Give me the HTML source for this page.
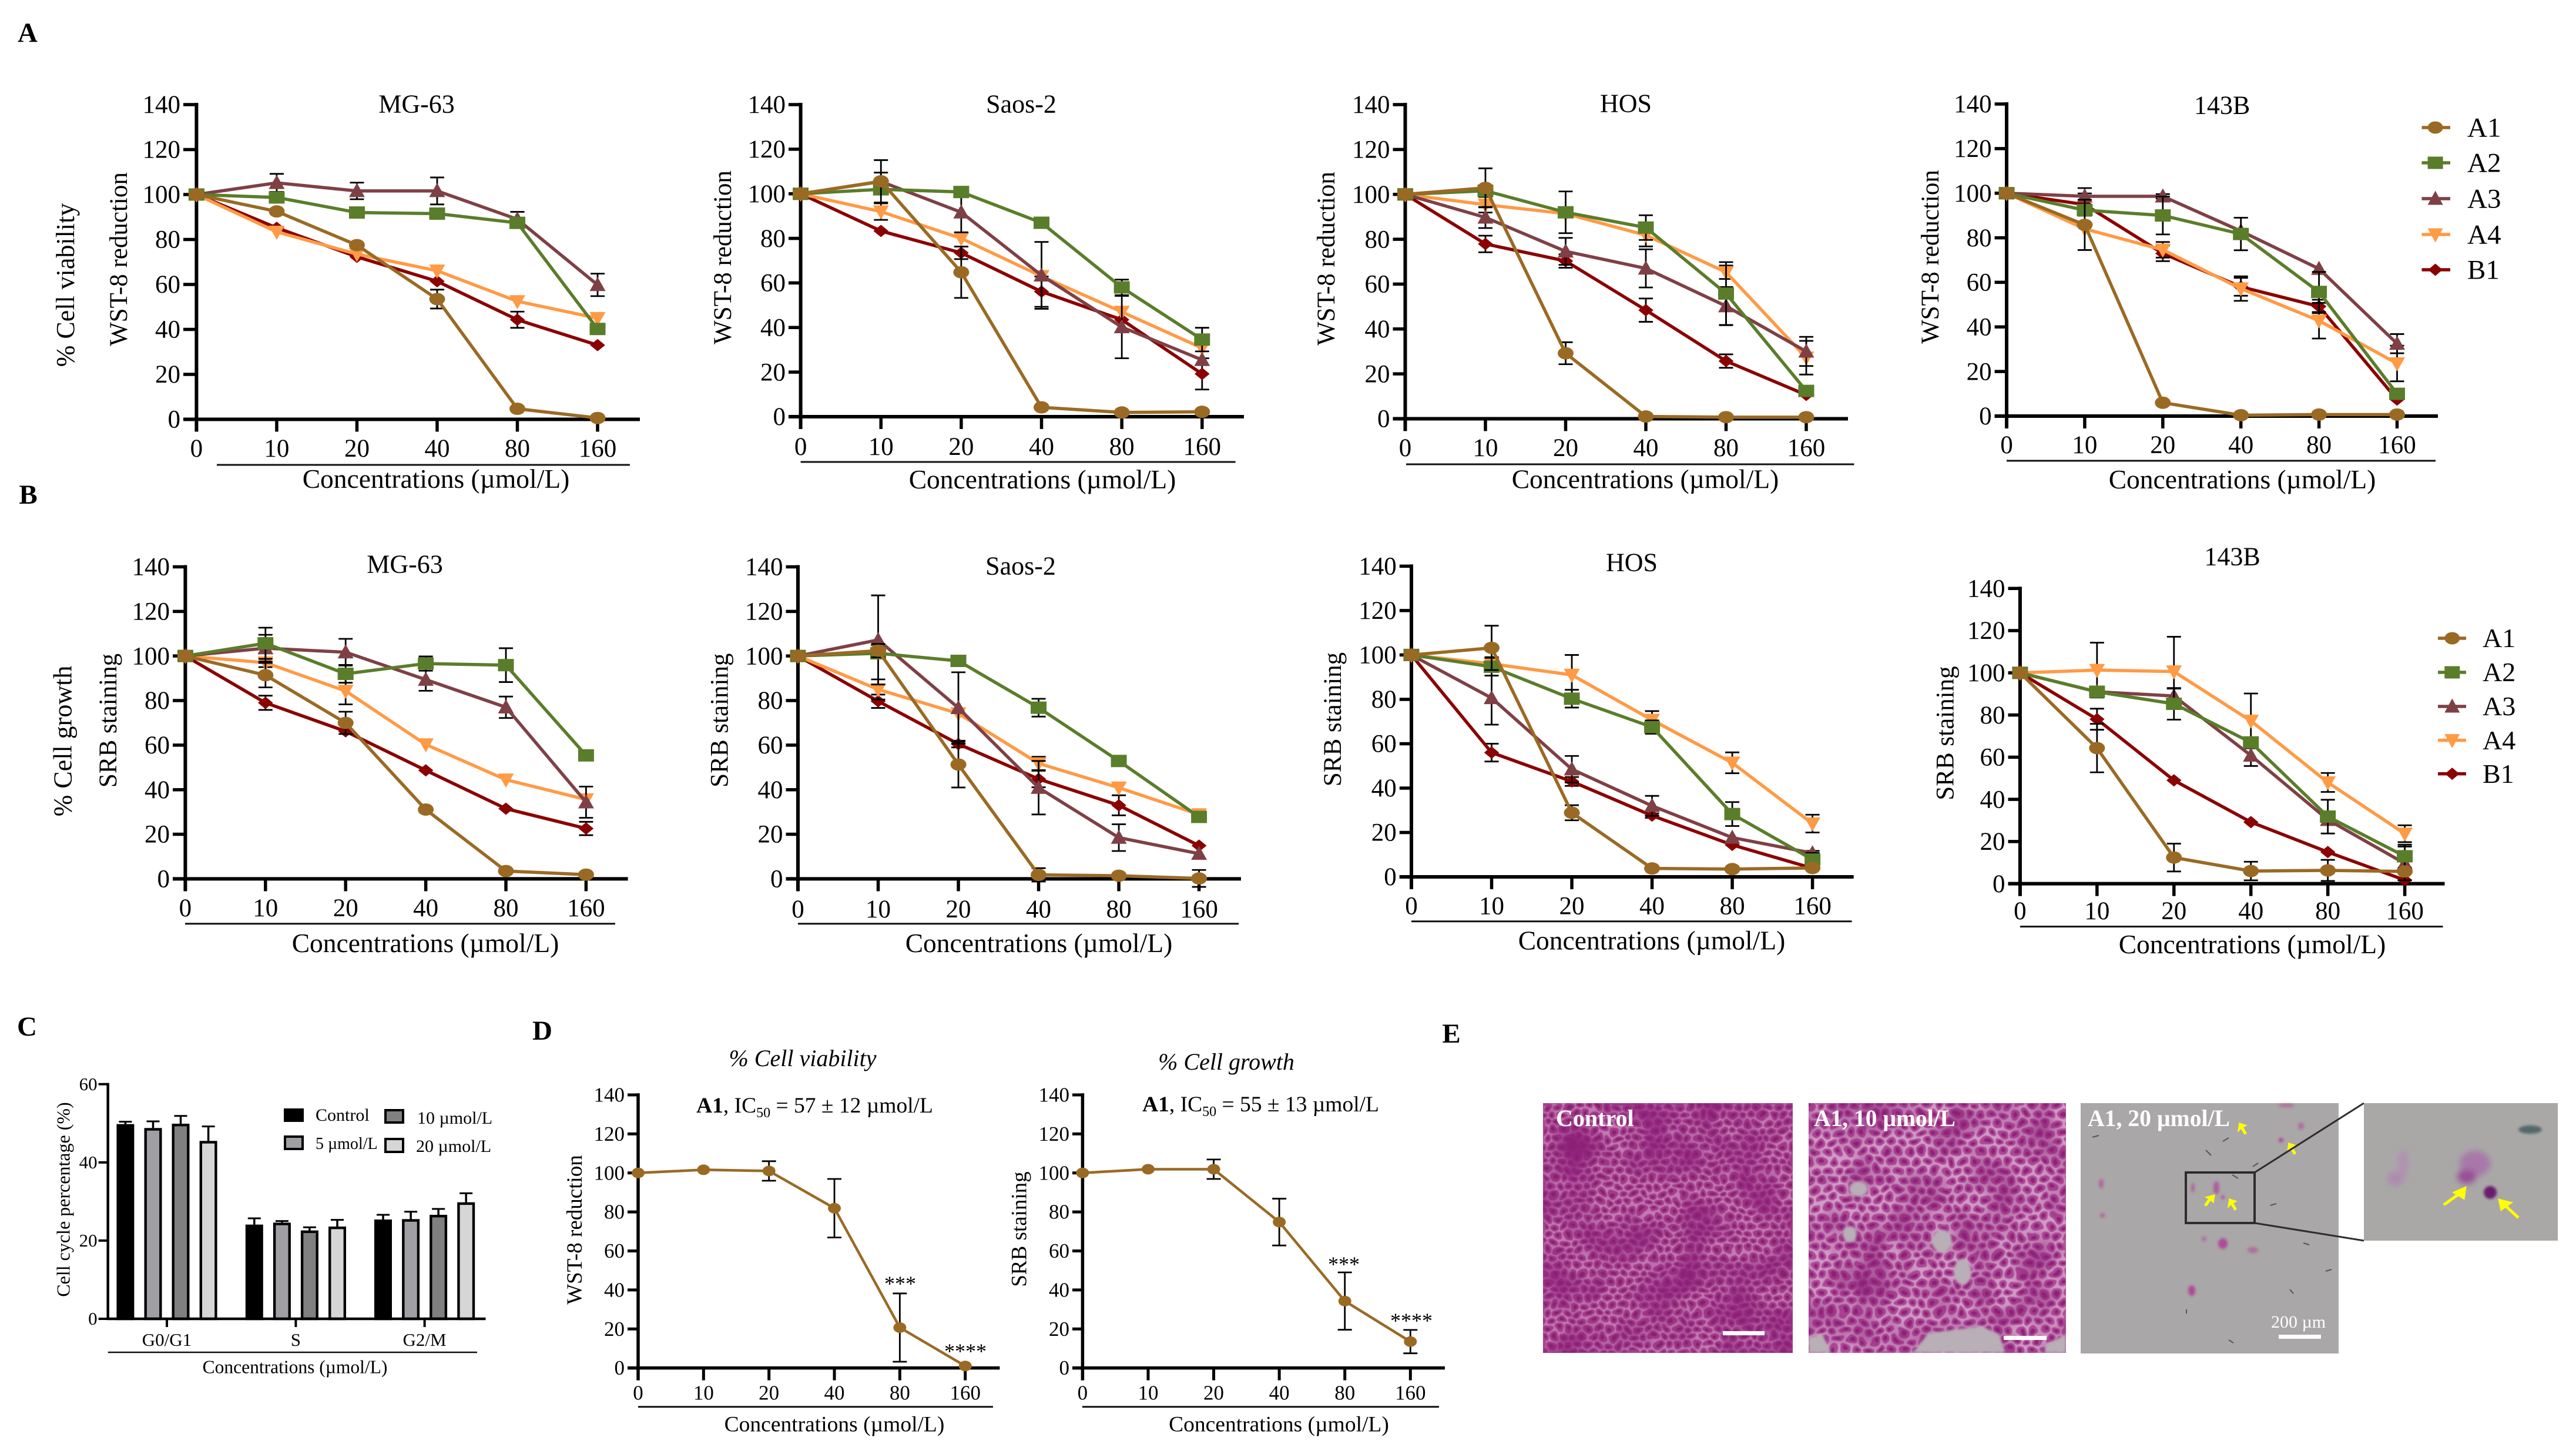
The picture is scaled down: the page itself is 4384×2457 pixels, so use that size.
<!DOCTYPE html>
<html lang="en">
<head>
<meta charset="utf-8">
<title>Cell viability and growth figure</title>
<style>
html,body{margin:0;padding:0;background:#fff}
svg{display:block}
text{font-family:"Liberation Serif","Times New Roman",serif;fill:#000}
</style>
</head>
<body>
<svg id="figure" xmlns="http://www.w3.org/2000/svg" width="4384" height="2457" viewBox="0 0 4384 2457">
  <defs>
    <pattern id="cellsDense" width="17" height="27" patternUnits="userSpaceOnUse">
      <rect width="17" height="27" fill="#C27AB4"/>
      <ellipse cx="8.5" cy="6.75" rx="7.6" ry="6.4" fill="#A33A88"/>
      <ellipse cx="0" cy="20.25" rx="7.6" ry="6.4" fill="#A33A88"/>
      <ellipse cx="17" cy="20.25" rx="7.6" ry="6.4" fill="#A33A88"/>
      <ellipse cx="8.5" cy="6.75" rx="3.4" ry="3" fill="#85216F"/>
      <ellipse cx="0" cy="20.25" rx="3.4" ry="3" fill="#85216F"/>
      <ellipse cx="17" cy="20.25" rx="3.4" ry="3" fill="#85216F"/>
    </pattern>
    <pattern id="cellsLoose" width="20" height="32" patternUnits="userSpaceOnUse">
      <rect width="20" height="32" fill="#CF9CC6"/>
      <ellipse cx="10" cy="8" rx="8.4" ry="7.2" fill="#AF4896"/>
      <ellipse cx="0" cy="24" rx="8.4" ry="7.2" fill="#AF4896"/>
      <ellipse cx="20" cy="24" rx="8.4" ry="7.2" fill="#AF4896"/>
      <ellipse cx="10" cy="8" rx="4" ry="3.5" fill="#8C2478"/>
      <ellipse cx="0" cy="24" rx="4" ry="3.5" fill="#8C2478"/>
      <ellipse cx="20" cy="24" rx="4" ry="3.5" fill="#8C2478"/>
    </pattern>
    <filter id="warp" x="0" y="0" width="100%" height="100%" color-interpolation-filters="sRGB">
      <feTurbulence type="fractalNoise" baseFrequency="0.03" numOctaves="2" seed="7" result="n"/>
      <feDisplacementMap in="SourceGraphic" in2="n" scale="20" xChannelSelector="R" yChannelSelector="G" result="d"/>
      <feGaussianBlur in="d" stdDeviation="0.9"/>
    </filter>
    <filter id="mottle" x="0" y="0" width="100%" height="100%" color-interpolation-filters="sRGB">
      <feTurbulence type="fractalNoise" baseFrequency="0.014" numOctaves="3" seed="4"/>
      <feColorMatrix type="matrix" values="0 0 0 0 0.55  0 0 0 0 0.12  0 0 0 0 0.47  2 0 0 0 -0.75"/>
    </filter>
    <filter id="soft" x="-30%" y="-30%" width="160%" height="160%"><feGaussianBlur stdDeviation="2"/></filter>
    <filter id="softer" x="-30%" y="-30%" width="160%" height="160%"><feGaussianBlur stdDeviation="5"/></filter>
    <clipPath id="clip10"><rect x="3078" y="1877" width="438" height="425"/></clipPath>
  </defs>

  <g font-weight="bold" font-size="47" text-anchor="middle">
    <text x="47" y="71">A</text>
    <text x="48" y="857">B</text>
    <text x="46" y="1762">C</text>
    <text x="923" y="1769">D</text>
    <text x="2470" y="1774">E</text>
  </g>

  <g>
    <text x="1366" y="1814" font-size="40" font-style="italic" text-anchor="middle">% Cell viability</text>
    <text x="2087" y="1820" font-size="40" font-style="italic" text-anchor="middle">% Cell growth</text>
    <text x="1185" y="1893" font-size="37.5"><tspan font-weight="bold">A1</tspan>, IC<tspan font-size="24" dy="8">50</tspan><tspan dy="-8"> = 57 ± 12 µmol/L</tspan></text>
    <text x="1944" y="1891" font-size="37.5"><tspan font-weight="bold">A1</tspan>, IC<tspan font-size="24" dy="8">50</tspan><tspan dy="-8"> = 55 ± 13 µmol/L</tspan></text>
    <text x="1532" y="2196" font-size="36" text-anchor="middle">***</text>
    <text x="1643" y="2311" font-size="36" text-anchor="middle">****</text>
    <text x="2287" y="2163" font-size="36" text-anchor="middle">***</text>
    <text x="2402" y="2259" font-size="36" text-anchor="middle">****</text>
  </g>

  <g>
    <rect x="2626" y="1877" width="425" height="425" fill="#A8468E"/>
    <rect x="2626" y="1877" width="425" height="425" fill="url(#cellsDense)" filter="url(#warp)"/>
    <rect x="2626" y="1877" width="425" height="425" filter="url(#mottle)"/>
    <text x="2648" y="1916" font-size="40" font-weight="bold" style="fill:#fff">Control</text>
    <rect x="2932" y="2265" width="71" height="7" fill="#fff"/>
  </g>

  <g>
    <rect x="3078" y="1877" width="438" height="425" fill="#B4569C"/>
    <rect x="3078" y="1877" width="438" height="425" fill="url(#cellsLoose)" filter="url(#warp)"/>
    <rect x="3078" y="1877" width="438" height="425" filter="url(#mottle)" opacity="0.8"/>
    <g fill="#B9AFB7" filter="url(#soft)" clip-path="url(#clip10)">
      <ellipse cx="3305" cy="2112" rx="17" ry="20"/>
      <ellipse cx="3148" cy="2100" rx="12" ry="14"/>
      <ellipse cx="3340" cy="2164" rx="15" ry="22"/>
      <ellipse cx="3163" cy="2023" rx="16" ry="13"/>
      <polygon points="3255,2302 3282,2268 3330,2262 3372,2256 3402,2270 3412,2302"/>
      <polygon points="3078,2275 3102,2270 3116,2302 3078,2302"/>
      <polygon points="3480,2290 3516,2270 3516,2302 3480,2302"/>
    </g>
    <text x="3087" y="1916" font-size="40" font-weight="bold" textLength="241" lengthAdjust="spacingAndGlyphs" style="fill:#fff">A1, 10 µmol/L</text>
    <rect x="3410" y="2273" width="73" height="7" fill="#fff"/>
  </g>

  <g>
    <rect x="3541" y="1877" width="439" height="426" fill="#A9A7A7"/>
    <g fill="#B04A98" filter="url(#soft)">
      <ellipse cx="3783" cy="2116" rx="8" ry="9"/>
      <ellipse cx="3730" cy="2196" rx="6" ry="9"/>
      <ellipse cx="3576" cy="2014" rx="4" ry="8" opacity="0.7"/>
      <ellipse cx="3578" cy="2068" rx="4" ry="4" opacity="0.7"/>
      <ellipse cx="3834" cy="2127" rx="9" ry="5" opacity="0.6"/>
      <ellipse cx="3772" cy="2021" rx="5" ry="11" opacity="0.8"/>
      <ellipse cx="3732" cy="2021" rx="3" ry="8" opacity="0.7"/>
      <ellipse cx="3751" cy="2108" rx="4" ry="4" opacity="0.6"/>
      <ellipse cx="3916" cy="1916" rx="5" ry="6" opacity="0.6"/>
      <ellipse cx="3882" cy="1940" rx="4" ry="4"/>
      <ellipse cx="3891" cy="1881" rx="13" ry="3" opacity="0.6"/>
      <ellipse cx="3783" cy="2037" rx="3" ry="3"/>
    </g>
    <g stroke="#4A5A60" stroke-width="2">
      <line x1="3783" y1="1942" x2="3793" y2="1936"/>
      <line x1="3754" y1="1957" x2="3763" y2="1966"/>
      <line x1="3834" y1="1985" x2="3843" y2="1979"/>
      <line x1="3561" y1="1935" x2="3572" y2="1932"/>
      <line x1="3799" y1="1999" x2="3809" y2="2005"/>
      <line x1="3864" y1="2051" x2="3874" y2="2048"/>
      <line x1="3920" y1="2115" x2="3930" y2="2118"/>
      <line x1="3958" y1="2163" x2="3968" y2="2160"/>
      <line x1="3721" y1="2228" x2="3721" y2="2235"/>
      <line x1="3793" y1="2280" x2="3801" y2="2285"/>
      <line x1="3897" y1="2194" x2="3903" y2="2201"/>
    </g>
    <rect x="3720" y="1995" width="117" height="86" fill="none" stroke="#2D2D2D" stroke-width="4"/>
    <g fill="#FFFF00" stroke="#FFFF00">
      <path stroke-width="1.5" d="M3811 1911l12 4-6 3 6 10-3 2-6-10-5 5z"/>
      <path stroke-width="1.5" d="M3895 1945l12 4-6 3 6 10-3 2-6-10-5 5z"/>
      <path stroke-width="1.5" d="M3769 2033l-2 13-5-4-7 10-3-2 7-10-5-3z"/>
      <path stroke-width="1.5" d="M3794 2040l12 4-6 3 6 10-3 2-6-10-5 5z"/>
    </g>
    <text x="3553" y="1916" font-size="40" font-weight="bold" textLength="242" lengthAdjust="spacingAndGlyphs" style="fill:#fff">A1, 20 µmol/L</text>
    <text x="3865" y="2259" font-size="30" style="fill:#fff">200 µm</text>
    <rect x="3878" y="2271" width="72" height="7" fill="#fff"/>
  </g>

  <g stroke="#2D2D2D" stroke-width="3">
    <line x1="3837" y1="1995" x2="4023" y2="1877"/>
    <line x1="3837" y1="2081" x2="4023" y2="2111"/>
  </g>

  <g>
    <rect x="4023" y="1877" width="330" height="234" fill="#A9A8A7"/>
    <g filter="url(#softer)">
      <ellipse cx="4090" cy="1980" rx="9" ry="24" fill="#B192B0"/>
      <ellipse cx="4077" cy="2006" rx="14" ry="12" fill="#AF8AAF"/>
      <ellipse cx="4212" cy="1980" rx="26" ry="22" fill="#A878A8"/>
      <ellipse cx="4198" cy="2002" rx="16" ry="12" fill="#9A4E96"/>
    </g>
    <g filter="url(#soft)">
      <ellipse cx="4238" cy="2029" rx="11" ry="11" fill="#6A1E70"/>
      <ellipse cx="4306" cy="1922" rx="20" ry="7" fill="#55686A"/>
    </g>
    <g fill="#FFFF00" stroke="#FFFF00">
      <line x1="4159" y1="2050" x2="4190" y2="2028" stroke-width="5"/>
      <polygon points="4197,2019 4194,2041 4174,2029" stroke-width="1"/>
      <line x1="4286" y1="2072" x2="4260" y2="2048" stroke-width="5"/>
      <polygon points="4252,2040 4276,2046 4256,2060" stroke-width="1"/>
    </g>
  </g>
</svg>

<script>
// Shared categories and tick labels
const doses = ['0', '10', '20', '40', '80', '160'];
const yTicks = [0, 20, 40, 60, 80, 100, 120, 140];
const seriesNames = ['A1', 'A2', 'A3', 'A4', 'B1'];
const cycleCategories = ['G0/G1', 'S', 'G2/M'];
const cycleTreatments = ['Control', '5 µmol/L', '10 µmol/L', '20 µmol/L'];
const cycleTicks = [0, 20, 40, 60];

// Panel A, WST-8, MG-63
const aMg63A1 = [100, 92.5, 77.5, 53.5, 4.7, 0.6];
const aMg63A2 = [100, 98.7, 92, 91.5, 87.4, 40.2];
const aMg63A3 = [100, 105.2, 101.6, 101.6, 89, 59.8];
const aMg63A4 = [100, 83.4, 73.5, 66.1, 52.5, 45];
const aMg63B1 = [100, 85.2, 72.3, 61.4, 44.3, 33];
const aMg63A1Err = [0, 0, 0, 4.2, 0, 0];
const aMg63A2Err = [0, 0, 0, 0, 0, 0];
const aMg63A3Err = [0, 4, 3.7, 6, 3.3, 5];
const aMg63A4Err = [0, 0, 0, 0, 0, 0];
const aMg63B1Err = [0, 0, 0, 0, 3.6, 0];

// Panel A, WST-8, Saos-2
const aSaosA1 = [100, 105.6, 64.8, 4.2, 1.9, 2.2];
const aSaosA2 = [100, 102, 100.8, 87, 58, 34.6];
const aSaosA3 = [100, 105.5, 91.7, 63.4, 40.2, 25.5];
const aSaosA4 = [100, 92, 80, 63, 47, 30.8];
const aSaosB1 = [100, 83.3, 73.5, 56.1, 43.5, 19.2];
const aSaosA1Err = [0, 9.5, 11.5, 0, 0, 0];
const aSaosA2Err = [0, 0, 0, 0, 3.5, 5.3];
const aSaosA3Err = [0, 4, 9, 15, 14, 0];
const aSaosA4Err = [0, 3.7, 0, 0, 0, 0];
const aSaosB1Err = [0, 0, 2.8, 6.8, 0, 7];

// Panel A, WST-8, HOS
const aHosA1 = [100, 102.9, 29.2, 1, 0.7, 0.7];
const aHosA2 = [100, 101.6, 92, 85.2, 55.8, 12.4];
const aHosA3 = [100, 89.7, 74.6, 67, 50.2, 30];
const aHosA4 = [100, 95.4, 91.4, 81.8, 65.3, 27.2];
const aHosB1 = [100, 77.9, 70.3, 48.4, 25.7, 10.6];
const aHosA1Err = [0, 8.7, 4.9, 0, 0, 0];
const aHosA2Err = [0, 0, 9.3, 5.5, 14, 0];
const aHosA3Err = [0, 4.7, 6, 8.5, 8.5, 6.5];
const aHosA4Err = [0, 3.5, 0, 5, 3, 7.5];
const aHosB1Err = [0, 3.7, 3, 5.2, 3, 0];

// Panel A, WST-8, 143B
const a143A1 = [100, 85.8, 6, 0.4, 0.7, 0.7];
const a143A2 = [100, 92.4, 90, 81.7, 55.7, 10];
const a143A3 = [100, 98.6, 98.6, 83, 66.1, 32.5];
const a143A4 = [100, 84, 74.6, 57.2, 42.8, 23.6];
const a143B1 = [100, 94.9, 73, 58, 49.2, 7.4];
const a143A1Err = [0, 11.3, 0, 0, 0, 0];
const a143A2Err = [0, 2, 8.5, 7.3, 9, 0];
const a143A3Err = [0, 3.7, 1, 0, 0, 4.3];
const a143A4Err = [0, 0, 3.5, 5.5, 8, 8];
const a143B1Err = [0, 5, 3.5, 4, 3, 0];

// Panel B, SRB, MG-63
const bMg63A1 = [100, 91.4, 70, 31.1, 3.5, 1.9];
const bMg63A2 = [100, 105.7, 92, 96.6, 95.9, 55.4];
const bMg63A3 = [100, 103.5, 101.7, 89.4, 77, 34.4];
const bMg63A4 = [100, 97, 84.3, 60.3, 44.5, 35.6];
const bMg63B1 = [100, 79, 66.2, 48.7, 31.5, 22.6];
const bMg63A1Err = [0, 5.5, 5, 0, 0, 0];
const bMg63A2Err = [0, 7, 4, 3.2, 7.6, 0];
const bMg63A3Err = [0, 6, 6, 5, 4.8, 7];
const bMg63A4Err = [0, 2, 6, 0, 0, 0];
const bMg63B1Err = [0, 3.2, 0, 0, 0, 3];

// Panel B, SRB, Saos-2
const bSaosA1 = [100, 102.4, 51.3, 1.8, 1.4, 0.2];
const bSaosA2 = [100, 101.2, 97.8, 76.8, 52.9, 27.8];
const bSaosA3 = [100, 107.2, 76.7, 40.9, 18.5, 11.3];
const bSaosA4 = [100, 85, 74.2, 51.8, 40.9, 28.9];
const bSaosB1 = [100, 79.7, 60.5, 44.8, 33, 14.9];
const bSaosA1Err = [0, 3, 10.3, 3, 0, 3.8];
const bSaosA2Err = [0, 0, 0, 4, 0, 0];
const bSaosA3Err = [0, 20, 16, 12, 6, 0];
const bSaosA4Err = [0, 4.5, 0, 3, 0, 0];
const bSaosB1Err = [0, 3, 1.5, 3.7, 4.5, 0];

// Panel B, SRB, HOS
const bHosA1 = [100, 103.2, 28.9, 3.8, 3.5, 4];
const bHosA2 = [100, 94.7, 80.3, 67.5, 28.3, 7.8];
const bHosA3 = [100, 80.6, 48.5, 32, 17.7, 10.7];
const bHosA4 = [100, 96, 91, 70.7, 51.4, 24];
const bHosB1 = [100, 56, 43, 27.6, 14.4, 3.9];
const bHosA1Err = [0, 10, 3.4, 0, 0, 0];
const bHosA2Err = [0, 4, 4, 3, 5.4, 3];
const bHosA3Err = [0, 12, 6, 4.5, 0, 1];
const bHosA4Err = [0, 3, 9, 4, 4.7, 4];
const bHosB1Err = [0, 4, 2, 1, 0, 0];

// Panel B, SRB, 143B
const b143A1 = [100, 64.3, 12.4, 6, 6.3, 5.8];
const b143A2 = [100, 91, 85.3, 67, 31.8, 13];
const b143A3 = [100, 91, 89, 60.8, 30.3, 9.6];
const b143A4 = [100, 101.3, 100.6, 77.2, 48, 23.7];
const b143B1 = [100, 78, 49, 29.2, 15, 1.7];
const b143A1Err = [0, 11.5, 6.6, 4.4, 5, 0];
const b143A2Err = [0, 2.5, 7.5, 0, 8, 5.5];
const b143A3Err = [0, 2, 3.5, 5, 0, 8];
const b143A4Err = [0, 13, 16.5, 13, 4.5, 4];
const b143B1Err = [0, 5, 0, 0, 0, 0];

// Panel D, A1 alone
const dWstA1 = [100, 101.6, 101, 81.9, 20.7, 1];
const dWstA1Err = [0, 0, 5, 15, 17.5, 0];
const dSrbA1 = [100, 101.9, 101.9, 74.8, 34.3, 13.5];
const dSrbA1Err = [0, 0, 5, 12, 14.7, 6];

// Panel C, cell cycle
const cycleControl = [49.8, 24.1, 25.4];
const cycle5 = [48.8, 24.6, 25.5];
const cycle10 = [49.9, 22.6, 26.6];
const cycle20 = [45.5, 23.6, 29.8];
const cycleControlErr = [0.6, 1.6, 1.2];
const cycle5Err = [1.7, 0.4, 1.9];
const cycle10Err = [2, 0.8, 1.5];
const cycle20Err = [3.7, 1.7, 2.3];

// Styling, separate from the data
const seriesColors = ['#9A6A24', '#5A7D2A', '#7F4045', '#FF9A45', '#8B0000'];
const markerKinds = ['circle', 'square', 'triUp', 'triDown', 'diamond'];
const barFills = ['#000000', '#A0A0A4', '#808080', '#D6D6D6'];
const NS = 'http://www.w3.org/2000/svg';
const svg = document.getElementById('figure');

function make(tag, attrs, parent) {
  const el = document.createElementNS(NS, tag);
  for (const k in attrs) el.setAttribute(k, attrs[k]);
  parent.appendChild(el);
  return el;
}
function makeText(str, x, centerY, size, anchor, parent) {
  const el = make('text', {x: x, y: centerY + size * 0.33, 'font-size': size, 'text-anchor': anchor}, parent);
  el.textContent = str;
  return el;
}
function makeVerticalText(str, centerX, centerY, size, parent) {
  const bx = centerX + size * 0.3;
  const el = make('text', {x: bx, y: centerY, 'font-size': size, 'text-anchor': 'middle', transform: 'rotate(-90 ' + bx + ' ' + centerY + ')'}, parent);
  el.textContent = str;
  return el;
}
function makeMarker(kind, x, y, w, h, color, parent) {
  const hw = w / 2, hh = h / 2;
  if (kind === 'circle') return make('ellipse', {cx: x, cy: y, rx: hw, ry: hh, fill: color}, parent);
  if (kind === 'square') return make('rect', {x: x - hw, y: y - hh, width: w, height: h, fill: color}, parent);
  let pts;
  if (kind === 'triUp') pts = [[x, y - hh - 3], [x + hw, y + hh], [x - hw, y + hh]];
  else if (kind === 'triDown') pts = [[x, y + hh + 3], [x + hw, y - hh], [x - hw, y - hh]];
  else pts = [[x, y - hh], [x + hw * 0.95, y], [x, y + hh], [x - hw * 0.95, y]];
  return make('polygon', {points: pts.map(function (p) { return p.join(','); }).join(' '), fill: color}, parent);
}

// Pixel geometry of each line chart
const layoutA1 = {x0: 334.4, x5: 1017, end: 1089, tickL: 312, y0: 713.5, y140: 178, ulY: 791, ulA: 369, ulB: 1072, titleX: 709, titleY: 177, xlX: 742, xlY: 815, tlY: 763, ylX: 203, ylY: 441};
const layoutA2 = {x0: 1362.6, x5: 2045.8, end: 2117, tickL: 1342, y0: 709, y140: 178, ulY: 786, ulA: 1362.6, ulB: 2102.6, titleX: 1738, titleY: 177, xlX: 1774, xlY: 816, tlY: 760, ylX: 1231, ylY: 438};
const layoutA3 = {x0: 2391.5, x5: 3074, end: 3145, tickL: 2370.5, y0: 712.5, y140: 178, ulY: 790, ulA: 2393, ulB: 3155.5, titleX: 2767, titleY: 176, xlX: 2800, xlY: 815.5, tlY: 762, ylX: 2258, ylY: 440};
const layoutA4 = {x0: 3415, x5: 4079.5, end: 4149, tickL: 3394.6, y0: 708, y140: 177, ulY: 784, ulA: 3415, ulB: 4145, titleX: 3781.6, titleY: 179, xlX: 3816, xlY: 816, tlY: 757, ylX: 3286, ylY: 437};
const layoutB1 = {x0: 315.4, x5: 997.4, end: 1068.6, tickL: 294, y0: 1495.4, y140: 964.5, ulY: 1571.7, ulA: 315, ulB: 1047, titleX: 689, titleY: 960, xlX: 724, xlY: 1605, tlY: 1545, ylX: 185, ylY: 1226};
const layoutB2 = {x0: 1358, x5: 2040.6, end: 2112, tickL: 1337.5, y0: 1495.4, y140: 964.5, ulY: 1571.7, ulA: 1358, ulB: 2108, titleX: 1737, titleY: 963, xlX: 1768, xlY: 1605, tlY: 1547, ylX: 1225.7, ylY: 1225.6};
const layoutB3 = {x0: 2402, x5: 3084.6, end: 3154.7, tickL: 2381.8, y0: 1492, y140: 963.4, ulY: 1567.8, ulA: 2402, ulB: 3151.5, titleX: 2777, titleY: 957, xlX: 2811, xlY: 1600.7, tlY: 1541.5, ylX: 2269, ylY: 1224};
const layoutB4 = {x0: 3437.9, x5: 4092.6, end: 4160.5, tickL: 3417.5, y0: 1503.6, y140: 1001.3, ulY: 1576.6, ulA: 3438, ulB: 4157.5, titleX: 3799, titleY: 947, xlX: 3833, xlY: 1607, tlY: 1550, ylX: 3311.8, ylY: 1247.5};
const layoutD1 = {x0: 1086, x5: 1642.7, end: 1701.4, tickL: 1068, y0: 2327.6, y140: 1863, ulY: 2393.8, ulA: 1086, ulB: 1690, xlX: 1420, xlY: 2423, tlY: 2370, ylX: 979, ylY: 2092.5, small: true};
const layoutD2 = {x0: 1842.4, x5: 2400.3, end: 2459, tickL: 1825, y0: 2327.6, y140: 1863, ulY: 2393.8, ulA: 1842, ulB: 2449, xlX: 2176.5, xlY: 2423, tlY: 2370, ylX: 1735.6, ylY: 2091.5, small: true};

// Axis functions
function xAt(i, g) { return g.x0 + (g.x5 - g.x0) * i / (doses.length - 1); }
function yAt(v, g) { return g.y0 - (g.y0 - g.y140) * v / yTicks[yTicks.length - 1]; }

function drawAxes(g, title, yLabel, root) {
  const fs = g.small ? 35 : 43;
  const xlFs = g.small ? 37.5 : 45.5;
  const ylFs = g.small ? 37 : 43;
  const lw = g.small ? 5.5 : 6;
  const yAxis = make('line', {x1: g.x0, x2: g.x0, y1: yAt(yTicks[yTicks.length - 1], g) - lw / 2, y2: g.y0 + 21, stroke: '#000', 'stroke-width': lw}, root);
  
  
  const xAxis = make('line', {x1: g.tickL, x2: g.end, y1: g.y0, y2: g.y0, stroke: '#000', 'stroke-width': lw}, root);
  
  
  yTicks.forEach(function (t) {
    const tick = make('line', {x1: g.tickL, x2: g.x0, y1: yAt(t, g), y2: yAt(t, g), stroke: '#000', 'stroke-width': lw - 0.5}, root);
    
    
    const lab = makeText(String(t), g.tickL - 5, yAt(t, g), fs, 'end', root);
    
    
  });
  doses.forEach(function (d, i) {
    const tick = make('line', {x1: xAt(i, g), x2: xAt(i, g), y1: g.y0, y2: g.y0 + 21, stroke: '#000', 'stroke-width': lw - 0.5}, root);
    
    
    const lab = makeText(d, xAt(i, g), g.tlY, fs, 'middle', root);
    
    
  });
  const under = make('line', {x1: g.ulA, x2: g.ulB, y1: g.ulY, y2: g.ulY, stroke: '#111', 'stroke-width': 3}, root);
  
  
  const xl = makeText('Concentrations (µmol/L)', g.xlX, g.xlY, xlFs, 'middle', root);
  
  
  const yl = makeVerticalText(yLabel, g.ylX, g.ylY, ylFs, root);
  
  
  if (title) {
    const tt = makeText(title, g.titleX, g.titleY, 44, 'middle', root);
    
    
  }
}

function drawSeries(name, values, errors, colorIdx, g, mw, mh, lw, root) {
  const grp = make('g', {}, root);
  
  
  values.forEach(function (v, i) {
    if (!errors[i]) return;
    const x = xAt(i, g);
    const capHalf = 12;
    const stem = make('line', {x1: x, x2: x, y1: yAt(v + errors[i], g), y2: yAt(v - errors[i], g), stroke: '#000', 'stroke-width': 2.8}, grp);
    
    
    const capTop = make('line', {x1: x - capHalf, x2: x + capHalf, y1: yAt(v + errors[i], g), y2: yAt(v + errors[i], g), stroke: '#000', 'stroke-width': 2.8}, grp);
    
    
    const capBottom = make('line', {x1: x - capHalf, x2: x + capHalf, y1: yAt(v - errors[i], g), y2: yAt(v - errors[i], g), stroke: '#000', 'stroke-width': 2.8}, grp);
    
    
  });
  const pts = values.map(function (v, i) { return xAt(i, g) + ',' + yAt(v, g); }).join(' ');
  const line = make('polyline', {points: pts, fill: 'none', stroke: seriesColors[colorIdx], 'stroke-width': lw, 'stroke-linejoin': 'round'}, grp);
  
  
  values.forEach(function (v, i) {
    const m = makeMarker(markerKinds[colorIdx], xAt(i, g), yAt(v, g), mw, mh, seriesColors[colorIdx], grp);
    
    
  });
}

function drawLineChart(key, g, title, yLabel, seriesList, errList) {
  const root = make('g', {}, svg);
  
  
  drawAxes(g, title, yLabel, root);
  // B1 is painted first and A1 last, so A1 sits on top
  for (let s = seriesList.length - 1; s >= 0; s--) {
    drawSeries(seriesNames[s], seriesList[s], errList[s], s, g, 27, 21, 5.5, root);
  }
}

drawLineChart('wst-mg63', layoutA1, 'MG-63', 'WST-8 reduction', [aMg63A1, aMg63A2, aMg63A3, aMg63A4, aMg63B1], [aMg63A1Err, aMg63A2Err, aMg63A3Err, aMg63A4Err, aMg63B1Err]);
drawLineChart('wst-saos2', layoutA2, 'Saos-2', 'WST-8 reduction', [aSaosA1, aSaosA2, aSaosA3, aSaosA4, aSaosB1], [aSaosA1Err, aSaosA2Err, aSaosA3Err, aSaosA4Err, aSaosB1Err]);
drawLineChart('wst-hos', layoutA3, 'HOS', 'WST-8 reduction', [aHosA1, aHosA2, aHosA3, aHosA4, aHosB1], [aHosA1Err, aHosA2Err, aHosA3Err, aHosA4Err, aHosB1Err]);
drawLineChart('wst-143b', layoutA4, '143B', 'WST-8 reduction', [a143A1, a143A2, a143A3, a143A4, a143B1], [a143A1Err, a143A2Err, a143A3Err, a143A4Err, a143B1Err]);
drawLineChart('srb-mg63', layoutB1, 'MG-63', 'SRB staining', [bMg63A1, bMg63A2, bMg63A3, bMg63A4, bMg63B1], [bMg63A1Err, bMg63A2Err, bMg63A3Err, bMg63A4Err, bMg63B1Err]);
drawLineChart('srb-saos2', layoutB2, 'Saos-2', 'SRB staining', [bSaosA1, bSaosA2, bSaosA3, bSaosA4, bSaosB1], [bSaosA1Err, bSaosA2Err, bSaosA3Err, bSaosA4Err, bSaosB1Err]);
drawLineChart('srb-hos', layoutB3, 'HOS', 'SRB staining', [bHosA1, bHosA2, bHosA3, bHosA4, bHosB1], [bHosA1Err, bHosA2Err, bHosA3Err, bHosA4Err, bHosB1Err]);
drawLineChart('srb-143b', layoutB4, '143B', 'SRB staining', [b143A1, b143A2, b143A3, b143A4, b143B1], [b143A1Err, b143A2Err, b143A3Err, b143A4Err, b143B1Err]);

// Panel D charts, A1 only
(function () {
  const r1 = make('g', {}, svg);
  
  
  drawAxes(layoutD1, null, 'WST-8 reduction', r1);
  drawSeries('A1', dWstA1, dWstA1Err, 0, layoutD1, 22, 18, 4.5, r1);
  const r2 = make('g', {}, svg);
  
  
  drawAxes(layoutD2, null, 'SRB staining', r2);
  drawSeries('A1', dSrbA1, dSrbA1Err, 0, layoutD2, 22, 18, 4.5, r2);
})();

// Extra outer y-axis titles in panels A and B
(function () {
  const a = makeVerticalText('% Cell viability', 113, 485, 44, svg);
  
  
  const b = makeVerticalText('% Cell growth', 108.5, 1261, 44, svg);
  
  
})();

// Line chart legends
const legendGeomA = {lineA: 4121.5, lineB: 4170, marker: 4144.6, textX: 4199, rows: [217, 277, 338, 399, 459], size: 47};
const legendGeomB = {lineA: 4149, lineB: 4197, marker: 4173.3, textX: 4225, rows: [1086, 1144, 1202, 1259.6, 1316.6], size: 46};
function drawLegend(g, key) {
  const root = make('g', {}, svg);
  
  
  seriesNames.forEach(function (n, i) {
    const y = g.rows[i];
    const line = make('line', {x1: g.lineA, x2: g.lineB, y1: y, y2: y, stroke: seriesColors[i], 'stroke-width': 5.5}, root);
    
    
    const m = makeMarker(markerKinds[i], g.marker, y, 26, 21, seriesColors[i], root);
    
    
    const t = makeText(n, g.textX, y, g.size, 'start', root);
    
    
  });
}
drawLegend(legendGeomA, 'wst');
drawLegend(legendGeomB, 'srb');

// Panel C bar chart
const cycleGeom = {x0: 183.7, end: 826.5, tickL: 167.6, y0: 2244, yTop: 1844.8, groups: [284, 503.4, 722.6], barOffsets: [-70.6, -23.5, 23.5, 70.6], barW: 30};
function yCycle(v) { return cycleGeom.y0 - (cycleGeom.y0 - cycleGeom.yTop) * v / cycleTicks[cycleTicks.length - 1]; }
const cycleValues = [cycleControl, cycle5, cycle10, cycle20];
const cycleErrors = [cycleControlErr, cycle5Err, cycle10Err, cycle20Err];
(function () {
  const g = cycleGeom;
  const root = make('g', {}, svg);
  
  
  cycleValues.forEach(function (vals, t) {
    vals.forEach(function (v, c) {
      const cx = g.groups[c] + g.barOffsets[t];
      const w = g.barW;
      const errLine = make('line', {x1: cx, x2: cx, y1: yCycle(v), y2: yCycle(v + cycleErrors[t][c]), stroke: '#000', 'stroke-width': 3.5}, root);
      
      
      const errCap = make('line', {x1: cx - 11, x2: cx + 11, y1: yCycle(v + cycleErrors[t][c]), y2: yCycle(v + cycleErrors[t][c]), stroke: '#000', 'stroke-width': 3}, root);
      
      
      const bar = make('rect', {x: cx - w / 2 + 2.2, y: yCycle(v) + 2.2, width: w - 4.4, height: g.y0 - yCycle(v) - 2.2, fill: barFills[t], stroke: '#000', 'stroke-width': 4.4}, root);
      
      
    });
  });
  const yAxis = make('line', {x1: g.x0, x2: g.x0, y1: g.yTop - 2, y2: g.y0 + 2, stroke: '#000', 'stroke-width': 4.5}, root);
  
  
  const xAxis = make('line', {x1: g.x0 - 2, x2: g.end, y1: g.y0, y2: g.y0, stroke: '#000', 'stroke-width': 4.5}, root);
  
  
  cycleTicks.forEach(function (t) {
    const tick = make('line', {x1: g.tickL, x2: g.x0, y1: yCycle(t), y2: yCycle(t), stroke: '#000', 'stroke-width': 4}, root);
    
    
    const lab = makeText(String(t), g.tickL - 2, yCycle(t), 31, 'end', root);
    
    
  });
  cycleCategories.forEach(function (c, i) {
    const tick = make('line', {x1: g.groups[i], x2: g.groups[i], y1: g.y0, y2: g.y0 + 14, stroke: '#000', 'stroke-width': 4}, root);
    
    
    const lab = makeText(c, g.groups[i], 2280, 31, 'middle', root);
    
    
  });
  const under = make('line', {x1: 183.7, x2: 812, y1: 2301, y2: 2301, stroke: '#111', 'stroke-width': 2.5}, root);
  
  
  const xl = makeText('Concentrations (µmol/L)', 502, 2326, 31.5, 'middle', root);
  
  
  const yl = makeVerticalText('Cell cycle percentage (%)', 109, 2041, 32, root);
  
  
})();

// Panel C legend
const cycleLegendSwatch = [[483, 1886, 34, 23], [483, 1932, 34, 25], [654, 1887, 34, 25], [654, 1936, 34, 26]];
const cycleLegendText = [[537, 1897], [537, 1946], [710, 1902], [708, 1950]];
cycleTreatments.forEach(function (n, i) {
  const s = cycleLegendSwatch[i];
  const sw = make('rect', {x: s[0] + 2, y: s[1] + 2, width: s[2] - 4, height: s[3] - 4, fill: barFills[i], stroke: '#000', 'stroke-width': 4}, svg);
  
  
  const t = makeText(n, cycleLegendText[i][0], cycleLegendText[i][1], i === 1 ? 28 : 30, 'start', svg);
  
  
});
</script>
</body>
</html>
